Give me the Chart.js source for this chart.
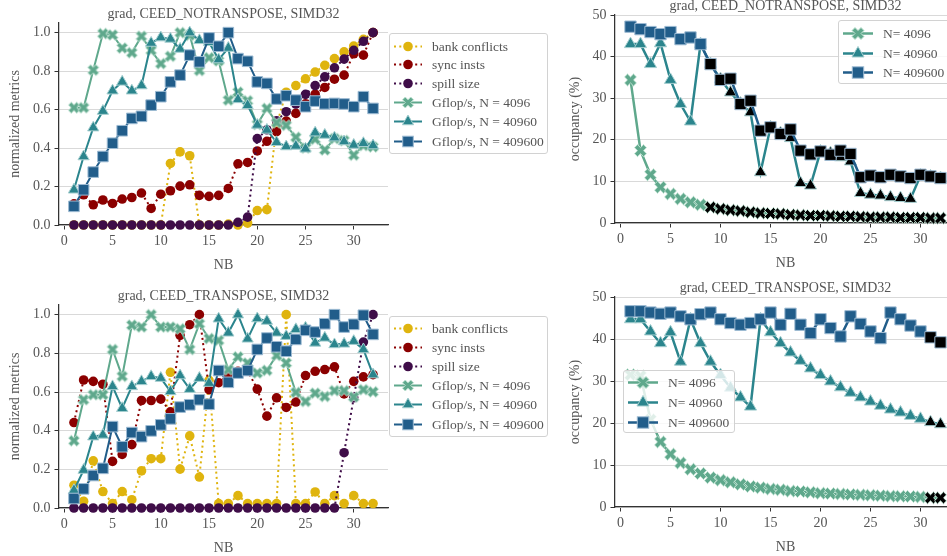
<!DOCTYPE html>
<html>
<head>
<meta charset="utf-8">
<script src="https://cdn.jsdelivr.net/npm/chart.js@4.4.1/dist/chart.umd.min.js"></script>
<style>
  html, body { margin: 0; padding: 0; background: #fff; width: 947px; height: 556px; overflow: hidden; position: relative; }
  canvas { position: absolute; }
  .legend { position: absolute; box-sizing: border-box; background: rgba(255,255,255,0.8); border: 1px solid #d2d2d2; border-radius: 3px; font: 13.5px "Liberation Serif", serif; color: #555; }
  .legend .row { position: absolute; left: 0; height: 19px; width: 100%; white-space: nowrap; }
  .legend svg { position: absolute; top: 0; }
  .legend span { position: absolute; top: 0; line-height: 19px; }
</style>
</head>
<body>
<canvas id="tl" width="400" height="275" style="left:0;top:0"></canvas>
<canvas id="bl" width="400" height="276" style="left:0;top:282px"></canvas>
<canvas id="tr" width="420" height="281" style="left:547px;top:-8px"></canvas>
<canvas id="br" width="420" height="283" style="left:547px;top:274px"></canvas>
<script>
// x values and ticks
const nb = [1,2,3,4,5,6,7,8,9,10,11,12,13,14,15,16,17,18,19,20,21,22,23,24,25,26,27,28,29,30,31,32];
const xTicks = [0,5,10,15,20,25,30];
const metricTicks = [0,0.2,0.4,0.6,0.8,1.0];
const occTicks = [0,10,20,30,40,50];

// normalized metrics, CEED_NOTRANSPOSE
const bankNT = [0,0,0,0,0,0,0,0,0,0,0.32,0.38,0.36,0,0,0,0.005,0,0.01,0.075,0.08,0.52,0.69,0.725,0.76,0.795,0.83,0.865,0.9,0.93,0.965,1.0];
const syncNT = [0.11,0.157,0.105,0.13,0.112,0.135,0.143,0.166,0.086,0.16,0.178,0.202,0.209,0.154,0.149,0.154,0.19,0.318,0.325,0.385,0.435,0.485,0.54,0.58,0.63,0.68,0.715,0.758,0.779,0.89,0.883,1.0];
const spillNT = [0,0,0,0,0,0,0,0,0,0,0,0,0,0,0,0,0,0.014,0.041,0.449,0.495,0.542,0.589,0.629,0.679,0.725,0.77,0.817,0.862,0.908,0.955,1.0];
const gf4096NT = [0.61,0.61,0.805,0.995,0.988,0.92,0.896,0.981,0.908,0.839,0.877,1.0,0.986,0.803,0.87,0.853,0.649,0.691,0.646,0.523,0.606,0.532,0.518,0.456,0.4,0.446,0.39,0.449,0.439,0.363,0.413,0.406];
const gf40960NT = [0.183,0.356,0.506,0.592,0.698,0.744,0.698,0.725,0.946,0.974,0.967,0.915,1.0,0.96,0.95,0.86,0.92,0.653,0.622,0.52,0.494,0.43,0.408,0.411,0.396,0.48,0.468,0.454,0.434,0.416,0.425,0.413];
const gf409600NT = [0.097,0.183,0.275,0.356,0.425,0.49,0.554,0.565,0.623,0.667,0.744,0.779,0.883,0.848,0.972,0.929,1.0,0.865,0.851,0.744,0.736,0.655,0.672,0.649,0.615,0.644,0.63,0.632,0.629,0.615,0.667,0.606];

// normalized metrics, CEED_TRANSPOSE
const bankT = [0.118,0.035,0.244,0.085,0.023,0.085,0.043,0.192,0.255,0.255,0.702,0.201,0.373,0.16,0.66,0.023,0.023,0.064,0.023,0.023,0.023,0.023,1.0,0.023,0.023,0.083,0.023,0.064,0.023,0.064,0.023,0.023];
const syncT = [0.442,0.662,0.655,0.64,0.241,0.277,0.328,0.556,0.556,0.563,0.497,0.893,0.948,1.0,0.612,0.648,0.69,0.707,0.71,0.615,0.475,0.57,0.52,0.548,0.685,0.707,0.716,0.73,0.59,0.655,0.678,0.69];
const spillT = [0,0,0,0,0,0,0,0,0,0,0,0,0,0,0,0,0,0,0,0,0,0,0,0,0,0,0,0,0.286,0.57,0.858,1.0];
const gf4096T = [0.348,0.56,0.586,0.586,0.82,0.681,0.946,0.936,1.0,0.936,0.936,0.927,0.82,0.953,0.877,0.867,0.716,0.782,0.75,0.698,0.712,0.789,0.75,0.598,0.551,0.594,0.577,0.607,0.607,0.574,0.612,0.601];
const gf40960T = [0.092,0.196,0.369,0.378,0.629,0.516,0.629,0.655,0.681,0.672,0.603,0.685,0.615,0.672,0.646,0.979,0.906,1.0,0.875,0.98,0.967,0.906,0.889,0.924,0.932,0.854,0.88,0.846,0.849,0.863,0.82,0.69];
const gf409600T = [0.049,0.099,0.168,0.205,0.421,0.317,0.39,0.369,0.399,0.43,0.461,0.522,0.534,0.56,0.537,0.711,0.65,0.698,0.711,0.82,0.879,0.834,0.811,0.872,0.919,0.91,0.953,1.0,0.936,0.95,0.997,0.898];

// occupancy (%), CEED_NOTRANSPOSE
const occ4096NT = [34.4,17.4,11.6,8.6,7.0,5.8,5.0,4.4,3.8,3.4,3.1,2.9,2.6,2.4,2.3,2.2,2.0,1.9,1.8,1.8,1.7,1.6,1.6,1.5,1.4,1.4,1.4,1.3,1.3,1.3,1.2,1.2];
const occ40960NT = [43,43,38.2,43.2,34.4,28.6,24.4,43,38.2,34.6,31.4,28.7,26.6,12.2,23,21.6,20.4,9.6,9.0,17.2,16.8,15.8,14.8,7.2,6.8,6.6,6.2,6.0,5.8,11.4,11.2,10.8];
const occ409600NT = [47.2,46.6,45.9,45.4,45.9,44.2,44.6,43,38.2,34.4,34.7,28.6,29.4,22.2,23,21.4,22.5,17.4,16.5,17.2,16.4,17.4,16.6,11.0,11.4,11.0,11.6,11.2,10.8,11.6,11.2,10.8];
// 1 = point drawn black
const blackNT = [0,0,0,0,0,0,0,0,1,1,1,1,1,1,1,1,1,1,1,1,1,1,1,1,1,1,1,1,1,1,1,1];

// occupancy (%), CEED_TRANSPOSE
const occ4096T = [31.5,31.2,20.8,15.5,12.6,10.5,9.0,8.0,7.0,6.4,5.9,5.4,4.9,4.6,4.3,4.1,3.8,3.7,3.5,3.3,3.2,3.1,3.0,2.9,2.8,2.7,2.6,2.55,2.5,2.4,2.2,2.2];
const occ40960T = [44.7,44.7,41.8,39.0,41.6,34.6,44.7,39.0,34.6,31.4,28.4,26.1,23.9,44.7,41.6,39.0,36.8,34.8,33.0,31.4,29.9,28.5,27.2,26.1,25.1,24.1,23.2,22.5,21.7,21.0,20.2,19.7];
const occ409600T = [46.6,46.6,46.3,46.0,46.3,45.4,44.7,45.9,46.3,44.7,43.8,43.4,43.8,44.7,46.3,43.4,46.0,43.4,41.4,44.7,42.6,40.6,45.4,43.6,41.8,40.2,46.3,44.7,43.2,41.8,40.4,39.2];
const blackT = [0,0,0,0,0,0,0,0,0,0,0,0,0,0,0,0,0,0,0,0,0,0,0,0,0,0,0,0,0,0,1,1];
const noBlack = nb.map(() => 0);

const FONT = '"Liberation Serif", serif';
const TEXT = '#555';
const AXIS = '#333';
const GRID = '#d9d9d9';

const C_BANK = '#dfb40e', C_SYNC = '#8b0000', C_SPILL = '#3f0d48';
const C_G1 = '#5fa88c', C_G2 = '#2b858d', C_G3 = '#215d8a';
const E_G1 = '#bfe2d2', E_G2 = '#a6cfd0', E_G3 = '#9dbbd3';

// filled "X" marker outline (plus shape rotated 45 deg)
const PLUS = [[-1,-3],[1,-3],[1,-1],[3,-1],[3,1],[1,1],[1,3],[-1,3],[-1,1],[-3,1],[-3,-1],[-1,-1]];
function xPoly(cx, cy, half) {
  const k = half / (4 / Math.SQRT2);
  return PLUS.map(([x, y]) => [cx + k * (x - y) / Math.SQRT2, cy + k * (x + y) / Math.SQRT2]);
}
function xMarker(fill, edge, half) {
  const c = document.createElement('canvas');
  const s = Math.ceil(2 * half + 3);
  c.width = c.height = s;
  const g = c.getContext('2d');
  const p = xPoly(s / 2, s / 2, half);
  g.beginPath();
  p.forEach(([x, y], i) => i ? g.lineTo(x, y) : g.moveTo(x, y));
  g.closePath();
  g.fillStyle = fill; g.fill();
  g.strokeStyle = edge; g.lineWidth = 1; g.stroke();
  return c;
}

function pts(vals) { return nb.map((x, i) => ({ x, y: vals[i] })); }

function dottedSet(label, vals, color, order) {
  return {
    label, data: pts(vals), order, clip: false,
    borderColor: color, backgroundColor: color, borderWidth: 2, borderDash: [2, 3.3],
    pointStyle: 'circle', pointRadius: 4.8, pointBorderWidth: 0, pointBackgroundColor: color
  };
}

function markSet(label, vals, kind, color, edge, black, order, big) {
  const lw = big ? 2.5 : 2;
  const ds = {
    label, data: pts(vals), order, clip: false,
    borderColor: color, backgroundColor: color, borderWidth: lw,
    pointBorderColor: edge, pointBorderWidth: 1,
    pointBackgroundColor: black.map(b => b ? '#000' : color)
  };
  if (kind === 'x') {
    const half = big ? 6 : 5.5;
    const a = xMarker(color, edge, half), b = xMarker('#000', edge, half);
    ds.pointStyle = black.map(k => k ? b : a);
    ds.pointRadius = half;
  } else if (kind === 'tri') {
    ds.pointStyle = 'triangle';
    ds.pointRadius = big ? 7 : 6.5;
  } else {
    ds.pointStyle = 'rect';
    ds.pointRadius = big ? 8 : 7.5;
  }
  return ds;
}

// title centred over the plot area, like the axes title
const axTitle = {
  id: 'axTitle',
  afterDraw(chart, args, opts) {
    const { ctx, chartArea } = chart;
    ctx.save();
    ctx.font = `14px ${FONT}`;
    ctx.fillStyle = TEXT;
    ctx.textAlign = 'center';
    ctx.textBaseline = 'middle';
    ctx.fillText(opts.text, (chartArea.left + chartArea.right) / 2, chartArea.top - 8.5);
    ctx.restore();
  }
};

function buildChart(id, cfg) {
  const tickFont = { family: FONT, size: 14 };
  return new Chart(document.getElementById(id), {
    type: 'line',
    data: { datasets: cfg.datasets },
    plugins: [axTitle],
    options: {
      responsive: false, animation: false, devicePixelRatio: 1,
      layout: { padding: { left: 0, right: cfg.padRight, top: 23, bottom: 0 } },
      plugins: {
        legend: { display: false },
        tooltip: { enabled: false },
        axTitle: { text: cfg.title }
      },
      scales: {
        x: {
          type: 'linear', min: -0.55, max: 33.55,
          afterBuildTicks: s => { s.ticks = xTicks.map(v => ({ value: v })); },
          afterFit: s => { s.height = 50; },
          ticks: { color: TEXT, font: tickFont, padding: 3, maxRotation: 0, autoSkip: false, callback: v => String(v) },
          grid: { drawOnChartArea: false, tickColor: AXIS, tickLength: 4.5, tickWidth: 1 },
          border: { color: AXIS, width: 1.25 },
          title: { display: true, text: 'NB', color: TEXT, font: { family: FONT, size: 14, lineHeight: 1.2 }, padding: { top: 0, bottom: 1.6 } }
        },
        y: {
          type: 'linear', min: 0, max: cfg.yMax,
          afterBuildTicks: s => { s.ticks = cfg.yTicks.map(v => ({ value: v })); },
          afterFit: s => { s.width = cfg.yWidth; },
          ticks: { color: TEXT, font: tickFont, padding: 4, callback: cfg.yFmt },
          grid: { color: GRID, lineWidth: 1, tickColor: AXIS, tickLength: 4.5, tickWidth: 1 },
          border: { color: AXIS, width: 1.25 },
          title: { display: true, text: cfg.yTitle, color: TEXT, font: { family: FONT, size: 14, lineHeight: 1.2 }, padding: { top: cfg.yTitlePad, bottom: 0 } }
        }
      }
    }
  });
}

const metricFmt = v => v.toFixed(1);
const occFmt = v => String(v);

function metricSets(bank, sync, spill, g1, g2, g3) {
  return [
    dottedSet('bank conflicts', bank, C_BANK, 6),
    dottedSet('sync insts', sync, C_SYNC, 5),
    dottedSet('spill size', spill, C_SPILL, 4),
    markSet('Gflop/s, N = 4096', g1, 'x', C_G1, E_G1, noBlack, 3, false),
    markSet('Gflop/s, N = 40960', g2, 'tri', C_G2, E_G2, noBlack, 2, false),
    markSet('Gflop/s, N = 409600', g3, 'sq', C_G3, E_G3, noBlack, 1, false)
  ];
}
function occSets(o1, o2, o3, b1, b2, b3) {
  return [
    markSet('N= 4096', o1, 'x', C_G1, E_G1, b1, 3, true),
    markSet('N= 40960', o2, 'tri', C_G2, E_G2, b2, 2, true),
    markSet('N= 409600', o3, 'sq', C_G3, E_G3, b3, 1, true)
  ];
}

buildChart('tl', {
  title: 'grad, CEED_NOTRANSPOSE, SIMD32', yTitle: 'normalized metrics',
  yMax: 1.05, yTicks: metricTicks, yFmt: metricFmt, yWidth: 59, yTitlePad: 7.4, padRight: 12,
  datasets: metricSets(bankNT, syncNT, spillNT, gf4096NT, gf40960NT, gf409600NT)
});
buildChart('bl', {
  title: 'grad, CEED_TRANSPOSE, SIMD32', yTitle: 'normalized metrics',
  yMax: 1.05, yTicks: metricTicks, yFmt: metricFmt, yWidth: 59, yTitlePad: 7.4, padRight: 12,
  datasets: metricSets(bankT, syncT, spillT, gf4096T, gf40960T, gf409600T)
});
buildChart('tr', {
  title: 'grad, CEED_NOTRANSPOSE, SIMD32', yTitle: 'occupancy (%)',
  yMax: 50, yTicks: occTicks, yFmt: occFmt, yWidth: 68, yTitlePad: 19.6, padRight: 11,
  datasets: occSets(occ4096NT, occ40960NT, occ409600NT, blackNT, blackNT, blackNT)
});
buildChart('br', {
  title: 'grad, CEED_TRANSPOSE, SIMD32', yTitle: 'occupancy (%)',
  yMax: 50, yTicks: occTicks, yFmt: occFmt, yWidth: 68, yTitlePad: 19.6, padRight: 11,
  datasets: occSets(occ4096T, occ40960T, occ409600T, blackT, blackT, blackT)
});

// legends (html overlays)
function markerSvg(kind, cx, cy, fill, edge, big) {
  if (kind === 'circle') return `<circle cx="${cx}" cy="${cy}" r="4.8" fill="${fill}"/>`;
  if (kind === 'tri') {
    const r = big ? 7 : 6.5, w = r * 0.866;
    return `<polygon points="${cx},${cy - r} ${cx + w},${cy + r / 2} ${cx - w},${cy + r / 2}" fill="${fill}" stroke="${edge}" stroke-width="1"/>`;
  }
  if (kind === 'sq') {
    const h = big ? 5.7 : 5.3;
    return `<rect x="${cx - h}" y="${cy - h}" width="${2 * h}" height="${2 * h}" fill="${fill}" stroke="${edge}" stroke-width="1"/>`;
  }
  const p = xPoly(cx, cy, big ? 6 : 5.5).map(q => q.join(',')).join(' ');
  return `<polygon points="${p}" fill="${fill}" stroke="${edge}" stroke-width="1"/>`;
}

function buildLegend(box, items, rows, lay) {
  const div = document.createElement('div');
  div.className = 'legend';
  Object.assign(div.style, { left: box[0] + 'px', top: box[1] + 'px', width: box[2] + 'px', height: box[3] + 'px' });
  items.forEach((it, i) => {
    const row = document.createElement('div');
    row.className = 'row';
    row.style.top = (rows[i] - 9.5) + 'px';
    const w = lay.handleW, cy = 9.5;
    const dash = it.dotted ? ' stroke-dasharray="2 3.3"' : '';
    row.innerHTML =
      `<svg width="${w + 4}" height="19" style="left:${lay.handleLeft}px">` +
      `<line x1="0" y1="${cy}" x2="${w}" y2="${cy}" stroke="${it.color}" stroke-width="${lay.lw}"${dash}/>` +
      markerSvg(it.marker, w / 2, cy, it.color, it.edge, lay.big) + `</svg>` +
      `<span style="left:${lay.textLeft}px">${it.label}</span>`;
    div.appendChild(row);
  });
  document.body.appendChild(div);
}

const metricItems = [
  { label: 'bank conflicts', color: C_BANK, dotted: true, marker: 'circle' },
  { label: 'sync insts', color: C_SYNC, dotted: true, marker: 'circle' },
  { label: 'spill size', color: C_SPILL, dotted: true, marker: 'circle' },
  { label: 'Gflop/s, N = 4096', color: C_G1, edge: E_G1, marker: 'x' },
  { label: 'Gflop/s, N = 40960', color: C_G2, edge: E_G2, marker: 'tri' },
  { label: 'Gflop/s, N = 409600', color: C_G3, edge: E_G3, marker: 'sq' }
];
const occItems = [
  { label: 'N= 4096', color: C_G1, edge: E_G1, marker: 'x' },
  { label: 'N= 40960', color: C_G2, edge: E_G2, marker: 'tri' },
  { label: 'N= 409600', color: C_G3, edge: E_G3, marker: 'sq' }
];
const smallLay = { handleLeft: 4, handleW: 28, textLeft: 42, lw: 2, big: false };
const bigLay = { handleLeft: 4, handleW: 30, textLeft: 44, lw: 2.5, big: true };

buildLegend([389, 33, 159, 121], metricItems, [12, 30.5, 49.5, 68.5, 87.5, 107], smallLay);
buildLegend([389, 316, 159, 121], metricItems, [11, 30, 49, 68.5, 87.5, 107], smallLay);
buildLegend([838, 20, 130, 64], occItems, [12.5, 32, 51.5], bigLay);
buildLegend([623, 370, 112, 63], occItems, [11, 31, 51], bigLay);
</script>
</body>
</html>
